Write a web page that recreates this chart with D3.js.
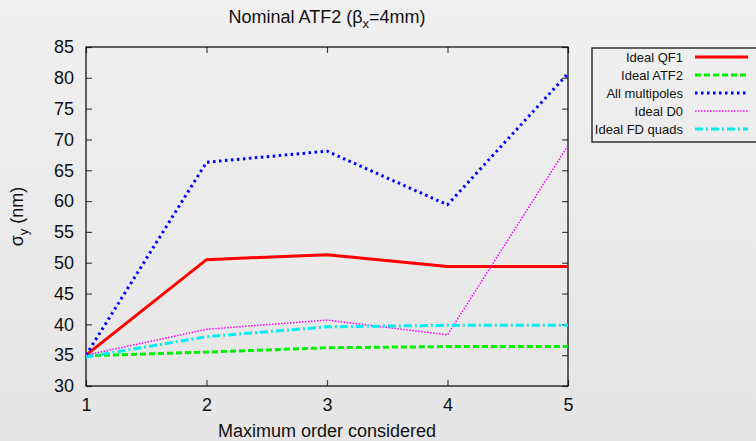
<!DOCTYPE html>
<html>
<head>
<meta charset="utf-8">
<script src="https://cdn.jsdelivr.net/npm/d3@7"></script>
<style>
  body { margin: 0; padding: 0; }
  svg { display: block; font-family: "Liberation Sans", Arial, sans-serif; }
</style>
</head>
<body>
<svg width="756" height="441"></svg>
<script>
// order on the x axis
var orders = [1, 2, 3, 4, 5];
var yTicks = [30, 35, 40, 45, 50, 55, 60, 65, 70, 75, 80, 85];

var idealQF1      = [35.0, 50.5, 51.3, 49.4, 49.4];
var idealATF2     = [34.9, 35.5, 36.2, 36.4, 36.4];
var allMultipoles = [35.0, 66.3, 68.1, 59.4, 80.7];
var idealD0       = [35.0, 39.2, 40.7, 38.3, 69.0];
var idealFDquads  = [34.7, 38.0, 39.6, 39.85, 39.85];

var seriesNames = ["Ideal QF1", "Ideal ATF2", "All multipoles", "Ideal D0", "Ideal FD quads"];

var series = [
  {name: seriesNames[0], values: idealQF1,      color: "#ff0000", width: 3,   dash: null},
  {name: seriesNames[1], values: idealATF2,     color: "#00ee00", width: 3,   dash: "6,3"},
  {name: seriesNames[2], values: allMultipoles, color: "#0000ff", width: 3,   dash: "2.5,3.5"},
  {name: seriesNames[3], values: idealD0,       color: "#ff00ff", width: 1.5, dash: "1.5,1.5"},
  {name: seriesNames[4], values: idealFDquads,  color: "#00eeee", width: 3,   dash: "8,3,2,3"}
];

var svg = d3.select("svg"),
    margin = {top: 47, right: 188, bottom: 55, left: 86},
    w = +svg.attr("width") - margin.left - margin.right,
    h = +svg.attr("height") - margin.top - margin.bottom;

// background gradient
var defs = svg.append("defs");
var grad = defs.append("linearGradient")
    .attr("id", "bg")
    .attr("x1", 0).attr("y1", 0).attr("x2", 0).attr("y2", 1);
grad.append("stop").attr("offset", "0%").attr("stop-color", "#f0f0f0");
grad.append("stop").attr("offset", "100%").attr("stop-color", "#e5e5e5");
svg.append("rect").attr("width", 756).attr("height", 441).attr("fill", "url(#bg)");

defs.append("clipPath").attr("id", "clip")
  .append("rect").attr("width", w).attr("height", h);

var xScale = d3.scaleLinear().domain([1, 5]).range([0, w]),
    yScale = d3.scaleLinear().domain([30, 85]).range([h, 0]);

var g = svg.append("g")
    .attr("transform", "translate(" + margin.left + "," + margin.top + ")");

// axes with inward ticks
var xAxisB = d3.axisBottom(xScale).tickValues(orders).tickSize(-6).tickPadding(12).tickFormat(d3.format("d"));
var xAxisT = d3.axisTop(xScale).tickValues(orders).tickSize(-6).tickFormat("");
var yAxisL = d3.axisLeft(yScale).tickValues(yTicks).tickSize(-6).tickPadding(12).tickFormat(d3.format("d"));
var yAxisR = d3.axisRight(yScale).tickValues(yTicks).tickSize(-6).tickFormat("");

g.append("g").attr("class", "axis").attr("transform", "translate(0," + h + ")").call(xAxisB);
g.append("g").attr("class", "axis").call(xAxisT);
g.append("g").attr("class", "axis").call(yAxisL);
g.append("g").attr("class", "axis").attr("transform", "translate(" + w + ",0)").call(yAxisR);

g.selectAll(".axis .domain").remove();
g.selectAll(".axis .tick line").attr("stroke", "#444").attr("stroke-width", 1.2);
g.selectAll(".axis .tick text")
    .attr("fill", "#111")
    .style("font-size", "18px")
    .style("font-family", "Liberation Sans, Arial, sans-serif");

g.append("rect")
    .attr("width", w).attr("height", h)
    .attr("fill", "none").attr("stroke", "#000").attr("stroke-width", 1.2);

// lines
var line = d3.line()
    .x(function(d, i) { return xScale(orders[i]); })
    .y(function(d) { return yScale(d); });

g.append("g").attr("clip-path", "url(#clip)")
  .selectAll(".series")
  .data(series)
  .enter().append("path")
    .attr("class", "series")
    .attr("d", function(d) { return line(d.values); })
    .attr("fill", "none")
    .attr("stroke", function(d) { return d.color; })
    .attr("stroke-width", function(d) { return d.width; })
    .attr("stroke-dasharray", function(d) { return d.dash; });

// title
var title = svg.append("text")
    .attr("x", margin.left + w / 2)
    .attr("y", 23)
    .attr("text-anchor", "middle")
    .attr("fill", "#111")
    .style("font-size", "18px");
title.append("tspan").text("Nominal ATF2 (\u03b2");
title.append("tspan").attr("dy", 5).style("font-size", "13px").text("x");
title.append("tspan").attr("dy", -5).text("=4mm)");

// axis labels
svg.append("text")
    .attr("x", margin.left + w / 2)
    .attr("y", 437)
    .attr("text-anchor", "middle")
    .attr("fill", "#111")
    .style("font-size", "18px")
    .text("Maximum order considered");

var ylab = svg.append("text")
    .attr("transform", "translate(23," + (margin.top + h / 2) + ") rotate(-90)")
    .attr("text-anchor", "middle")
    .attr("fill", "#111")
    .style("font-size", "18px");
ylab.append("tspan").text("\u03c3");
ylab.append("tspan").attr("dy", 5).style("font-size", "13px").text("y");
ylab.append("tspan").attr("dy", -5).text(" (nm)");

// legend
var legend = svg.append("g").attr("transform", "translate(592,48)");
legend.append("rect")
    .attr("width", 170).attr("height", 94)
    .attr("fill", "none").attr("stroke", "#000").attr("stroke-width", 1.2);

var rows = legend.selectAll(".row")
    .data(series)
    .enter().append("g")
    .attr("class", "row")
    .attr("transform", function(d, i) { return "translate(0," + (9 + i * 18) + ")"; });

rows.append("text")
    .attr("x", 91)
    .attr("y", 4.5)
    .attr("text-anchor", "end")
    .attr("fill", "#111")
    .style("font-size", "13px")
    .text(function(d) { return d.name; });

rows.append("line")
    .attr("x1", 103).attr("x2", 156)
    .attr("y1", 0).attr("y2", 0)
    .attr("stroke", function(d) { return d.color; })
    .attr("stroke-width", function(d) { return d.width; })
    .attr("stroke-dasharray", function(d) { return d.dash; });
</script>
</body>
</html>
